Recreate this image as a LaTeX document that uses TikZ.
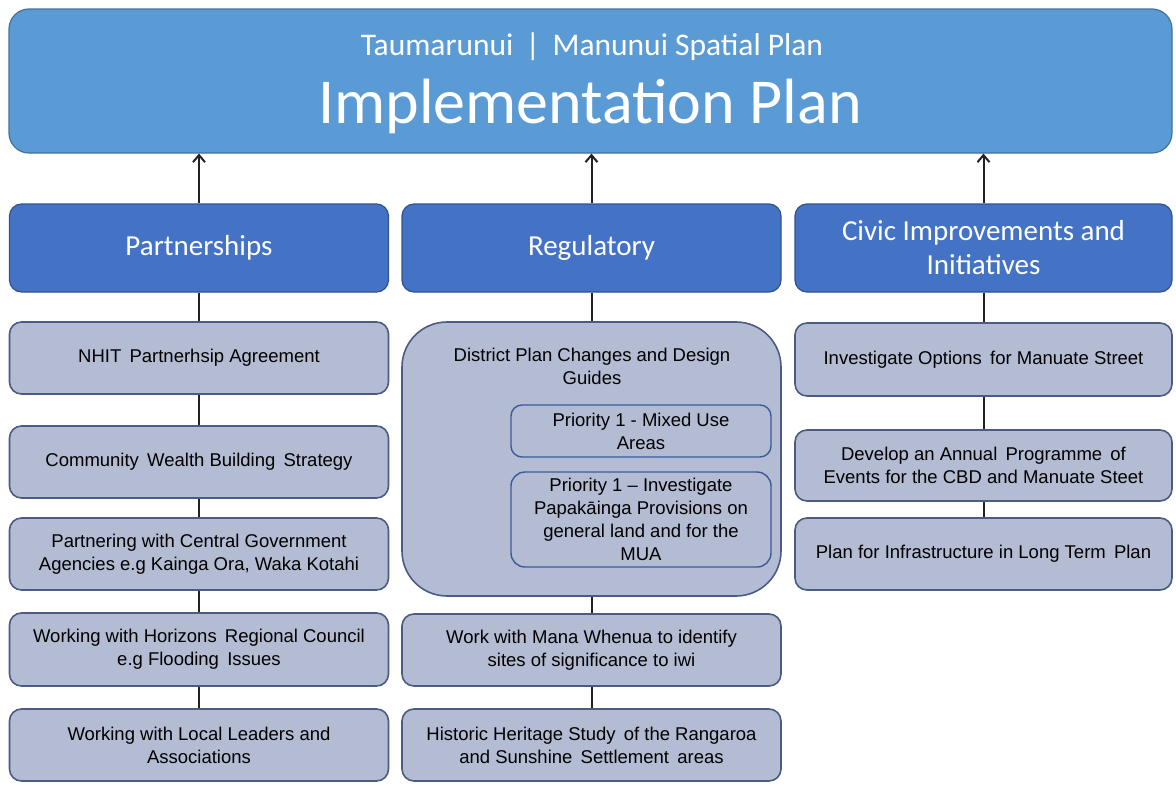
\documentclass[tikz,border=0pt]{standalone}
\usepackage{fontspec}
\setmainfont{Liberation Sans}
\newfontfamily\calibri{Carlito}
\usetikzlibrary{arrows.meta}
\definecolor{topblue}{HTML}{5B9BD5}
\definecolor{topedge}{HTML}{41719C}
\definecolor{headblue}{HTML}{4472C4}
\definecolor{headedge}{HTML}{2F528F}
\definecolor{itemfill}{HTML}{B3BCD3}
\definecolor{itemedge}{HTML}{4A5B86}
\definecolor{subedge}{HTML}{3A5A9A}
\definecolor{linkcol}{HTML}{222222}
\tikzset{
  topbox/.style={draw=topedge, fill=topblue, line width=1.2pt, rounded corners=20pt,
    minimum width=1163pt, minimum height=144pt, inner sep=0pt},
  headbox/.style={draw=headedge, fill=headblue, line width=1.2pt, rounded corners=12pt,
    minimum width=379pt, minimum height=88pt, text=white, align=center, inner sep=0pt,
    font=\calibri\fontsize{29}{34}\selectfont},
  itembox/.style={draw=itemedge, fill=itemfill, line width=1.6pt, rounded corners=12pt,
    minimum width=379pt, minimum height=72pt, align=center, inner sep=0pt,
    font=\fontsize{18.5}{23}\selectfont},
  subbox/.style={draw=subedge, fill=itemfill, line width=1.4pt, rounded corners=11pt,
    minimum width=260pt, align=center, inner sep=0pt,
    font=\fontsize{18.5}{23}\selectfont},
  link/.style={draw=linkcol, line width=2pt},
  uplink/.style={link, -{Straight Barb[length=7pt,width=12pt,line width=2pt]}},
}
\begin{document}
\begin{tikzpicture}[x=1pt,y=-1pt]
\useasboundingbox (0,0) rectangle (1176,787);

% title banner
\node[topbox] (top) at (590.5,81) {};
\node[text=white, font=\calibri\fontsize{31.5}{36}\selectfont, anchor=base] (sub) at (592,55)
  {Taumarunui \,|\, Manunui Spatial Plan};
\node[text=white, font=\calibri\fontsize{64}{72}\selectfont, anchor=base] (ttl) at (590,123)
  {Implementation Plan};

% column headings
\node[headbox] (ph) at (199,248) {Partnerships};
\node[headbox] (rh) at (591.5,248) {Regulatory};
\node[headbox, minimum width=377pt] (ch) at (983.5,248) {Civic Improvements and\\Initiatives};

% partnerships column
\node[itembox] (p1) at (199,358) {NHIT \,Partnerhsip Agreement};
\node[itembox] (p2) at (199,462) {Community \,Wealth Building \,Strategy};
\node[itembox] (p3) at (199,554) {Partnering with Central Government\\Agencies e.g Kainga Ora, Waka Kotahi};
\node[itembox, minimum height=73pt] (p4) at (199,649.5) {Working with Horizons \,Regional Council\\e.g Flooding \,Issues};
\node[itembox] (p5) at (199,745) {Working with Local Leaders and\\Associations};

% regulatory column
\node[itembox, rounded corners=45pt, minimum height=274pt] (r1) at (591.5,459) {};
\node[font=\fontsize{18.5}{23}\selectfont, align=center] (r1t) at (592,366)
  {District Plan Changes and Design\\Guides};
\node[subbox, minimum height=52pt] (r1a) at (641,431) {Priority 1 - Mixed Use\\Areas};
\node[subbox, minimum height=95pt, rounded corners=14pt] (r1b) at (641,519.5)
  {Priority 1 -- Investigate\\Papakāinga Provisions on\\general land and for the\\MUA};
\node[itembox] (r2) at (591.5,650) {Work with Mana Whenua to identify\\sites of significance to iwi};
\node[itembox] (r3) at (591.5,745) {Historic Heritage Study \,of the Rangaroa\\and Sunshine \,Settlement \,areas};

% civic column
\node[itembox, minimum width=377pt, minimum height=73pt] (c1) at (983.5,359.5) {Investigate Options \,for Manuate Street};
\node[itembox, minimum width=377pt, minimum height=71pt] (c2) at (983.5,465.5) {Develop an Annual \,Programme \,of\\Events for the CBD and Manuate Steet};
\node[itembox, minimum width=377pt] (c3) at (983.5,554) {Plan for Infrastructure in Long Term \,Plan};

% arrows up to the banner
\draw[uplink] (ph.north) -- (ph.north |- top.south);
\draw[uplink] (rh.north) -- (rh.north |- top.south);
\draw[uplink] (ch.north) -- (ch.north |- top.south);

% vertical links down each column
\draw[link] (ph) -- (p1);
\draw[link] (p1) -- (p2);
\draw[link] (p2) -- (p3);
\draw[link] (p3) -- (p4);
\draw[link] (p4) -- (p5);

\draw[link] (rh.south) -- (rh.south |- r1.north);
\draw[link] (r1.south) -- (r1.south |- r2.north);
\draw[link] (r2) -- (r3);

\draw[link] (ch) -- (c1);
\draw[link] (c1) -- (c2);
\draw[link] (c2) -- (c3);
\end{tikzpicture}
\end{document}
